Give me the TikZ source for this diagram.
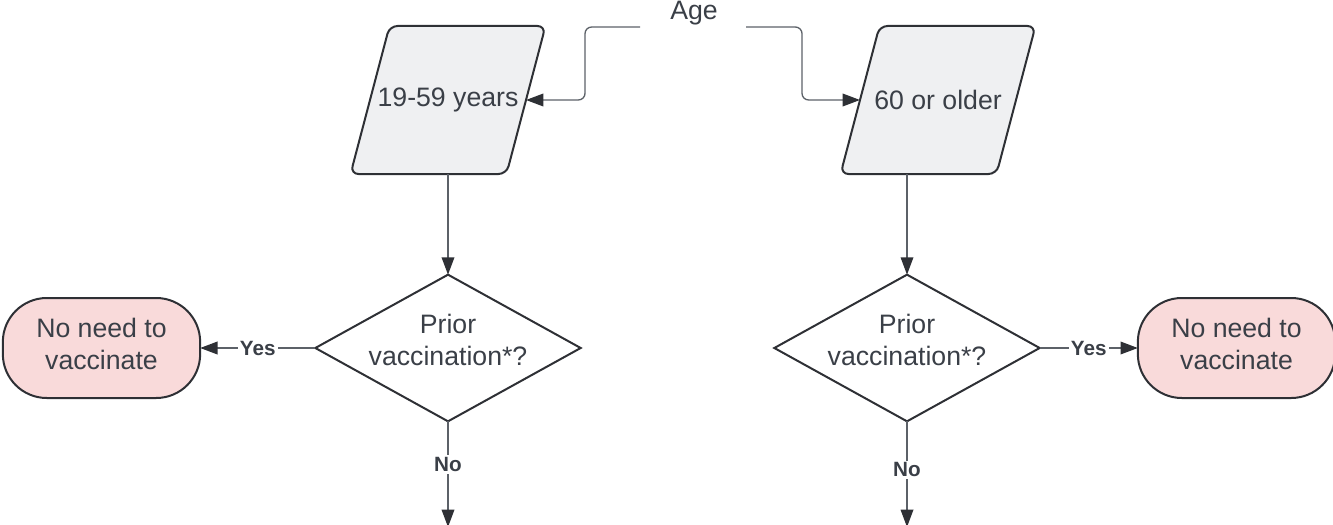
\documentclass[tikz,border=0pt]{standalone}
\usepackage{fontspec}
\setmainfont{Liberation Sans}
\usetikzlibrary{shapes.geometric,arrows.meta,backgrounds,calc}
\definecolor{ink}{HTML}{3A3F47}
\definecolor{edge}{HTML}{2E3035}
\definecolor{wire}{HTML}{5C6168}
\definecolor{slate}{HTML}{EFF0F2}
\definecolor{blush}{HTML}{F9DADA}
\begin{document}
\begin{tikzpicture}[x=0.75pt,y=-0.75pt,
  txt/.style={text=ink, font=\fontsize{20}{24.6}\selectfont, align=center},
  lab/.style={text=ink, font=\bfseries\fontsize{15.5}{18}\selectfont, fill=white, inner sep=1.5pt},
  outline/.style={draw=edge, line width=1.5pt},
  inbox/.style={txt, minimum width=117pt, minimum height=111pt, inner sep=0pt, outer sep=0pt},
  decision/.style={diamond, outline, minimum width=199pt, minimum height=110pt, inner sep=0pt, outer sep=0pt},
  terminal/.style={outline, fill=blush, rounded corners=33pt, minimum width=148pt, minimum height=75pt, inner sep=0pt, outer sep=0pt},
  wire/.style={draw=wire, line width=1pt},
  flow/.style={wire, -{Triangle[length=13pt,width=9.5pt,color=edge]}}]
\useasboundingbox (0,0) rectangle (1333,524);

% heading and the two start points of its branches
\node[txt] (age) at (694,13) {Age};
\coordinate (aL) at (640,27);
\coordinate (aR) at (746,27);

% age groups (parallelograms drawn behind the text boxes)
\node[inbox] (p1) at (448,100) {19-59 years};
\node[inbox] (p2) at (938,100) {60 or older};
\begin{scope}[on background layer]
  \foreach \p in {p1,p2}{
    \draw[outline, fill=slate, rounded corners=6pt]
      ($(\p.north west)+(19.5,0)$) -- ($(\p.north east)+(19.5,0)$) --
      ($(\p.south east)+(-19.5,0)$) -- ($(\p.south west)+(-19.5,0)$) -- cycle;
  }
\end{scope}

% decisions
\node[decision] (d1) at (448,348) {};
\node[txt] at ($(d1)+(0,-8)$) {Prior\\vaccination*?};
\node[decision] (d2) at (907,348) {};
\node[txt] at ($(d2)+(0,-8)$) {Prior\\vaccination*?};

% outcomes
\node[terminal] (t1) at (101.5,348) {};
\node[txt] at ($(t1)+(0,-4)$) {No need to\\vaccinate};
\node[terminal] (t2) at (1236.5,348) {};
\node[txt] at ($(t2)+(0,-4)$) {No need to\\vaccinate};

% open ends of the "No" branches
\coordinate (e1) at (448,527);
\coordinate (e2) at (907,527);

% connectors
\draw[flow, rounded corners=5pt] (aL) -- (585,27) |- (p1.east);
\draw[flow, rounded corners=5pt] (aR) -- (802,27) |- (p2.west);
\draw[flow] (p1.south) -- (d1.north);
\draw[flow] (d2.north |- p2.south) -- (d2.north);
\draw[flow] (d1.west) -- node[lab] {Yes} (t1.east);
\draw[flow] (d2.east) -- node[lab] {Yes} (t2.west);
\draw[flow] (d1.south) -- node[lab, pos=0.41] {No} (e1);
\draw[flow] (d2.south) -- node[lab, pos=0.46] {No} (e2);
\end{tikzpicture}
\end{document}
